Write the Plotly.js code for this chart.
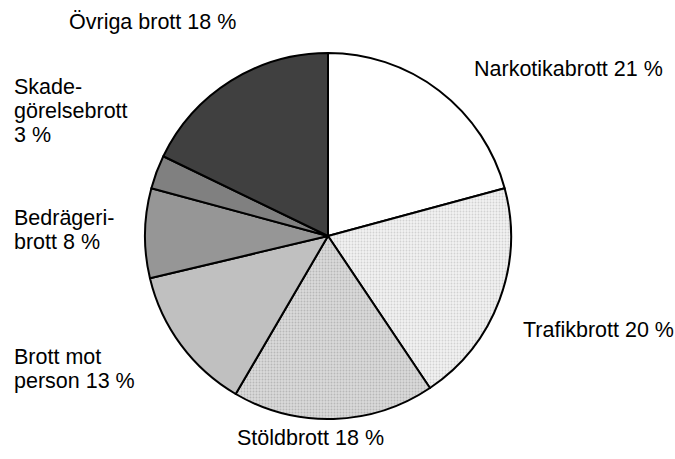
<!DOCTYPE html>
<html>
<head>
<meta charset="utf-8">
<script src="https://cdn.plot.ly/plotly-3.0.1.min.js"></script>
<style>html,body{margin:0;padding:0;background:#fff;}#chart{width:675px;height:459px;}</style>
</head>
<body>
<div id="chart"></div>
<script>
const categories = ["Narkotikabrott", "Trafikbrott", "Stöldbrott", "Brott mot person", "Bedrägeribrott", "Skadegörelsebrott", "Övriga brott"];
const values = [21, 20, 18, 13, 8, 3, 18];
const labelLines = [
  ["Narkotikabrott 21 %"],
  ["Trafikbrott 20 %"],
  ["Stöldbrott 18 %"],
  ["Brott mot", "person 13 %"],
  ["Bedrägeri-", "brott 8 %"],
  ["Skade-", "görelsebrott", "3 %"],
  ["Övriga brott 18 %"]
];

const colors = ["#ffffff", "#f2f2f2", "#dadada", "#c0c0c0", "#969696", "#808080", "#404040"];
const patternShapes = ["", ".", ".", "", "", "", ""];
const patternFg = ["#ffffff", "#d2d2d2", "#b8b8b8", "#c0c0c0", "#969696", "#808080", "#404040"];
// first-line centre (px) of each label block
const labelPos = [
  {x: 472, y: 69},
  {x: 521, y: 330},
  {x: 235, y: 438},
  {x: 12, y: 357},
  {x: 12, y: 218},
  {x: 12, y: 87},
  {x: 67, y: 22}
];
const lineStep = 24;
const W = 675, H = 459;

const trace = {
  type: "pie",
  labels: categories,
  values: values,
  sort: false,
  direction: "clockwise",
  rotation: 0,
  textinfo: "none",
  hoverinfo: "label+percent",
  marker: {
    colors: colors,
    line: {color: "#000000", width: 2},
    pattern: {shape: patternShapes, fgcolor: patternFg, bgcolor: colors, size: 3, solidity: 0.3, fillmode: "replace"}
  },
  domain: {x: [145/W, 511/W], y: [1 - 419/H, 1 - 53/H]},
  showlegend: false
};

const annotations = [];
labelLines.forEach((lines, i) => {
  lines.forEach((t, j) => {
    annotations.push({
      text: t,
      xref: "paper", yref: "paper",
      x: labelPos[i].x / W, y: 1 - (labelPos[i].y + j * lineStep) / H,
      xanchor: "left", yanchor: "middle",
      align: "left",
      showarrow: false,
      font: {family: "Liberation Sans, Arial, sans-serif", size: 21.5, color: "#000"}
    });
  });
});

const layout = {
  width: W, height: H,
  margin: {l: 0, r: 0, t: 0, b: 0},
  paper_bgcolor: "#ffffff",
  annotations: annotations,
  showlegend: false
};

Plotly.newPlot("chart", [trace], layout, {displayModeBar: false, staticPlot: true});
</script>
</body>
</html>
